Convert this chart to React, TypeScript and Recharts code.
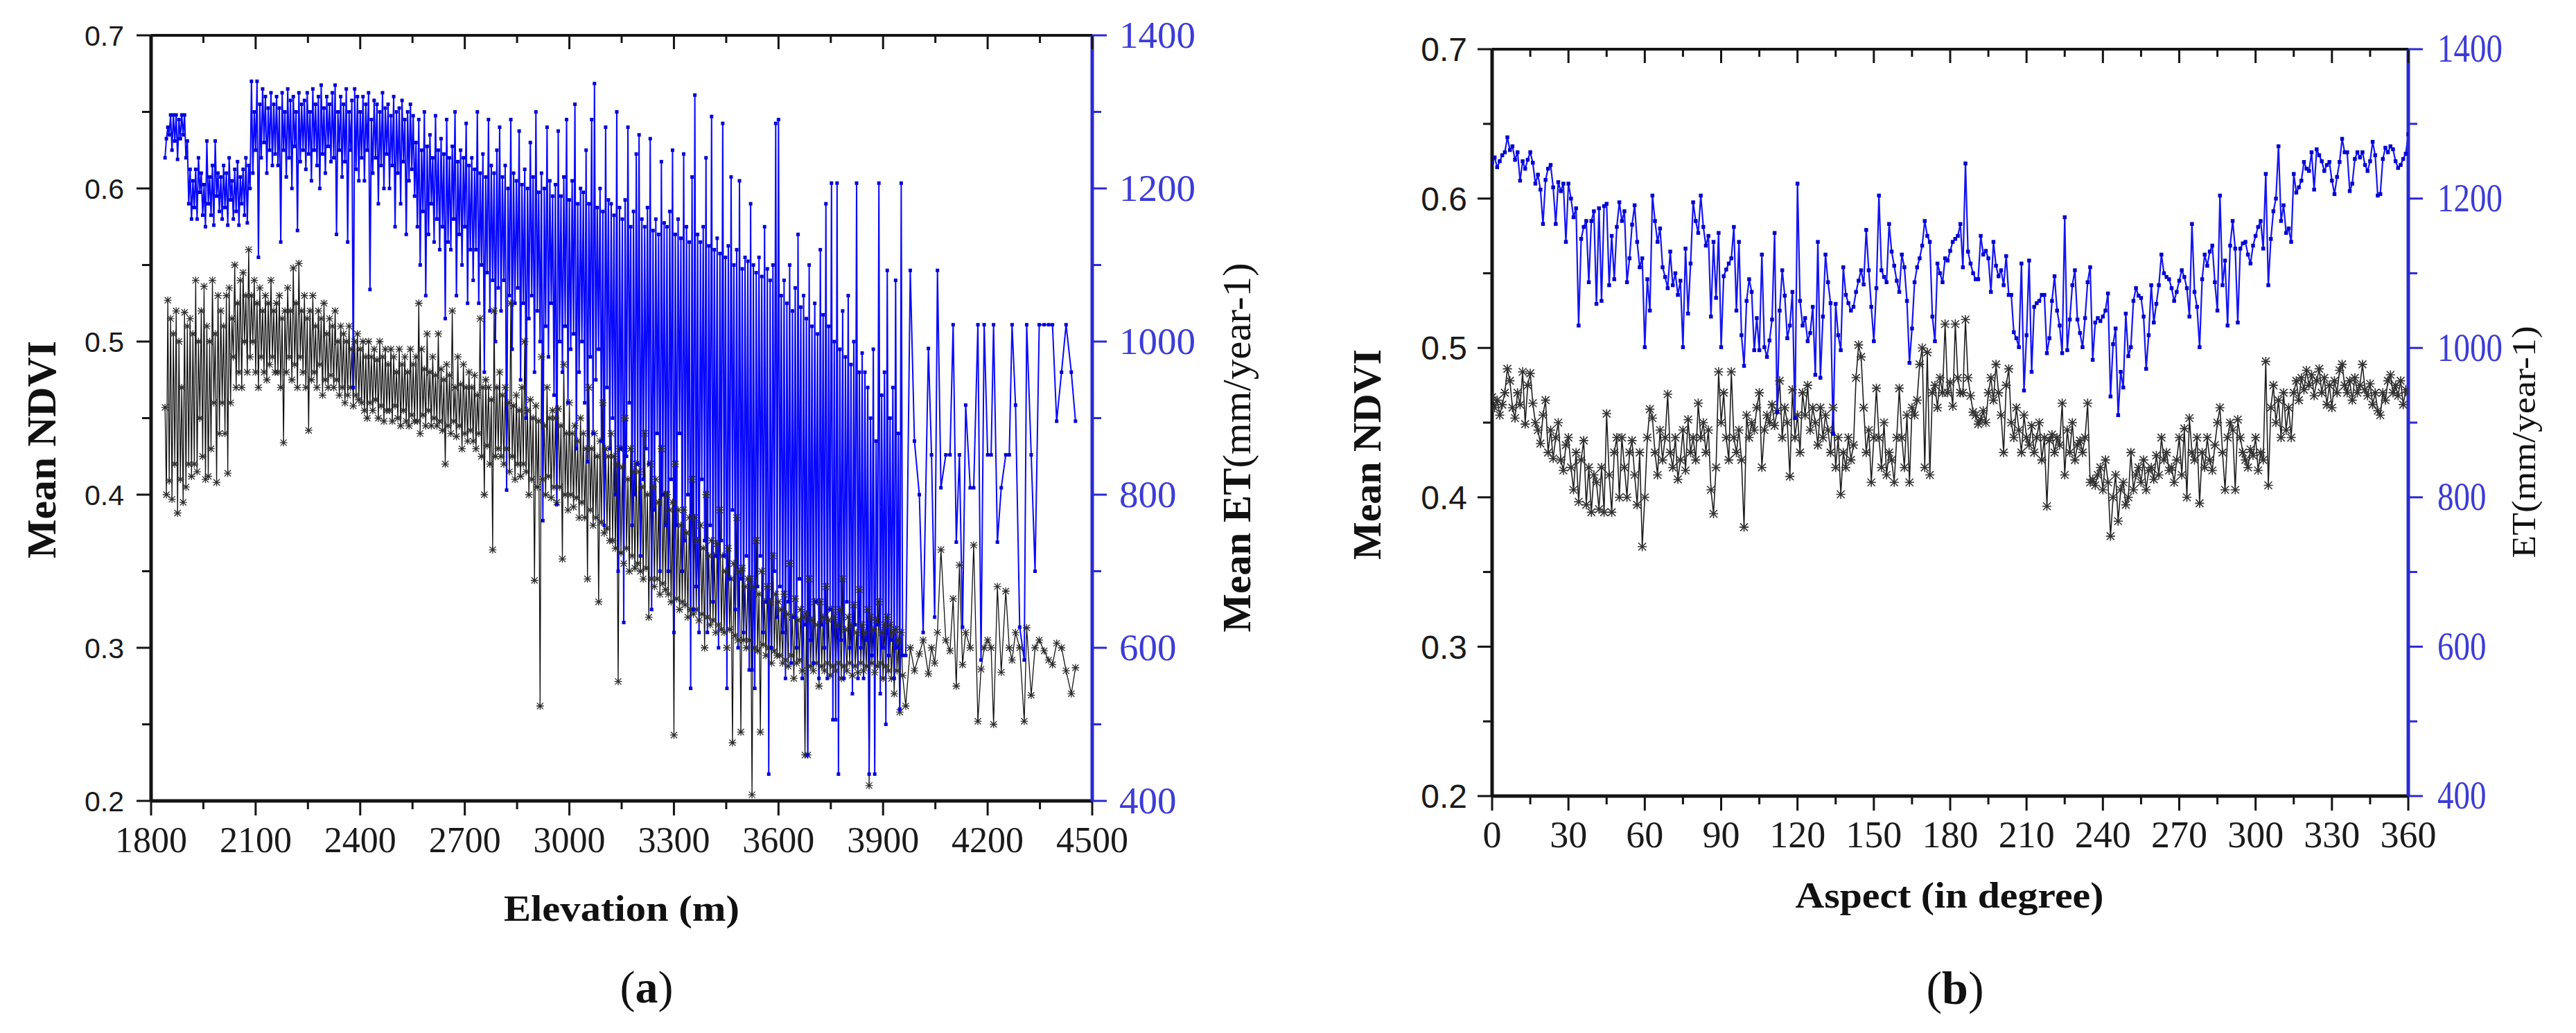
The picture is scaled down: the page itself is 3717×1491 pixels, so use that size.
import React from 'react';
import { LineChart, Line, XAxis, YAxis } from 'recharts';

// ---------- Panel (a): elevation, samples on the upper side of each swing ----------
const elevation = [
  1840,1848,1856,1864,1872,1880,1888,1896,1904,1912,
  1920,1928,1936,1944,1952,1960,1968,1976,1984,1992,
  2000,2008,2016,2024,2032,2040,2048,2056,2064,2072,
  2080,2088,2096,2104,2112,2120,2128,2136,2144,2152,
  2160,2168,2176,2184,2192,2200,2208,2216,2224,2232,
  2240,2248,2256,2264,2272,2280,2288,2296,2304,2312,
  2320,2328,2336,2344,2352,2360,2368,2376,2384,2392,
  2400,2408,2416,2424,2432,2440,2448,2456,2464,2472,
  2480,2488,2496,2504,2512,2520,2528,2536,2544,2552,
  2560,2568,2576,2584,2592,2600,2608,2616,2624,2632,
  2640,2648,2656,2664,2672,2680,2688,2696,2704,2712,
  2720,2728,2736,2744,2752,2760,2768,2776,2784,2792,
  2800,2808,2816,2824,2832,2840,2848,2856,2864,2872,
  2880,2888,2896,2904,2912,2920,2928,2936,2944,2952,
  2960,2968,2976,2984,2992,3000,3008,3016,3024,3032,
  3040,3048,3056,3064,3072,3080,3088,3096,3104,3112,
  3120,3128,3136,3144,3152,3160,3168,3176,3184,3192,
  3200,3208,3216,3224,3232,3240,3248,3256,3264,3272,
  3280,3288,3296,3304,3312,3320,3328,3336,3344,3352,
  3360,3368,3376,3384,3392,3400,3408,3416,3424,3432,
  3440,3448,3456,3464,3472,3480,3488,3496,3504,3512,
  3520,3528,3536,3544,3552,3560,3568,3576,3584,3592,
  3600,3608,3616,3624,3632,3640,3648,3656,3664,3672,
  3680,3688,3696,3704,3712,3720,3728,3736,3744,3752,
  3760,3768,3776,3784,3792,3800,3808,3816,3824,3832,
  3840,3848,3856,3864,3872,3880,3888,3896,3904,3912,
  3920,3928,3936,3944,3952,
  3965,3978,3990,4004,4015,4030,4039,4048,4056,4066,
  4080,4092,4101,4110,4119,4128,4137,4150,4160,4172,
  4181,4190,4200,4210,4217,4228,4239,4252,4262,4270,
  4280,4292,4305,4312,4325,4336,4348,4362,4375,4386,
  4398,4412,4425,4440,4452,
];

const ndviByElevation = [
  0.457,0.527,0.515,0.505,0.520,0.500,0.470,0.519,0.510,0.515,
  0.505,0.540,0.500,0.520,0.536,0.510,0.500,0.540,0.505,0.530,
  0.520,0.510,0.530,0.535,0.515,0.550,0.525,0.540,0.545,0.530,
  0.560,0.530,0.540,0.525,0.535,0.520,0.530,0.525,0.540,0.520,
  0.525,0.530,0.515,0.520,0.535,0.520,0.548,0.525,0.551,0.520,
  0.530,0.515,0.520,0.530,0.510,0.520,0.515,0.525,0.505,0.515,
  0.510,0.520,0.500,0.510,0.505,0.500,0.510,0.495,0.500,0.505,
  0.495,0.500,0.490,0.500,0.490,0.495,0.488,0.500,0.490,0.495,
  0.485,0.495,0.490,0.480,0.495,0.485,0.490,0.480,0.495,0.485,
  0.490,0.525,0.495,0.482,0.505,0.480,0.490,0.478,0.505,0.482,
  0.475,0.485,0.478,0.520,0.470,0.490,0.472,0.485,0.470,0.480,
  0.470,0.478,0.465,0.515,0.470,0.475,0.470,0.462,0.520,0.470,
  0.480,0.465,0.470,0.460,0.525,0.458,0.465,0.455,0.470,0.500,
  0.455,0.462,0.450,0.458,0.448,0.490,0.445,0.470,0.450,0.455,
  0.450,0.456,0.445,0.485,0.440,0.460,0.440,0.445,0.435,0.450,
  0.440,0.430,0.470,0.430,0.440,0.425,0.435,0.460,0.430,0.425,
  0.440,0.425,0.420,0.430,0.418,0.450,0.410,0.430,0.415,0.420,
  0.415,0.405,0.440,0.400,0.420,0.405,0.410,0.395,0.430,0.400,
  0.400,0.390,0.395,0.420,0.390,0.380,0.390,0.375,0.385,0.410,
  0.385,0.370,0.380,0.365,0.400,0.360,0.370,0.360,0.368,0.390,
  0.360,0.350,0.365,0.345,0.355,0.385,0.350,0.352,0.340,0.345,
  0.345,0.340,0.370,0.335,0.350,0.330,0.340,0.330,0.360,0.335,
  0.330,0.325,0.335,0.322,0.355,0.320,0.332,0.318,0.325,0.320,
  0.322,0.345,0.318,0.330,0.315,0.330,0.320,0.340,0.318,0.325,
  0.320,0.315,0.325,0.345,0.312,0.320,0.315,0.328,0.310,0.338,
  0.315,0.310,0.325,0.320,0.312,0.318,0.330,0.310,0.315,0.320,
  0.315,0.310,0.312,0.305,0.310,
  0.262,0.300,0.285,0.296,0.305,0.283,0.300,0.290,0.310,0.364,
  0.305,0.298,0.332,0.275,0.354,0.289,0.310,0.300,0.367,0.252,
  0.286,0.300,0.305,0.300,0.250,0.340,0.284,0.337,0.300,0.292,
  0.310,0.300,0.252,0.313,0.269,0.300,0.305,0.298,0.292,0.289,
  0.303,0.300,0.285,0.270,0.287,
];

const etByElevation = [
  1240,1280,1296,1296,1296,1290,1296,1296,1262,1225,
  1210,1225,1240,1220,1205,1262,1215,1230,1262,1220,
  1215,1230,1220,1240,1210,1225,1235,1215,1225,1240,
  1230,1340,1300,1340,1310,1330,1320,1305,1325,1310,
  1320,1305,1325,1300,1330,1315,1320,1300,1325,1310,
  1315,1325,1300,1330,1310,1320,1335,1305,1320,1310,
  1325,1335,1300,1320,1310,1330,1300,1315,1330,1320,
  1300,1320,1310,1325,1290,1315,1310,1300,1325,1305,
  1310,1295,1320,1300,1305,1315,1290,1300,1310,1295,
  1260,1290,1250,1300,1255,1270,1240,1295,1250,1265,
  1245,1290,1240,1255,1300,1235,1250,1240,1285,1230,
  1240,1225,1300,1220,1245,1215,1290,1230,1220,1250,
  1280,1215,1230,1200,1290,1220,1210,1275,1205,1225,
  1200,1260,1215,1300,1195,1220,1200,1280,1210,1190,
  1205,1275,1190,1215,1290,1185,1210,1310,1180,1200,
  1195,1250,1180,1290,1337,1175,1200,1170,1280,1185,
  1180,1165,1300,1175,1160,1185,1280,1150,1170,1245,
  1270,1160,1150,1175,1265,1145,1160,1140,1235,1155,
  1150,1170,1250,1140,1160,1135,1245,1150,1130,1215,
  1322,1140,1130,1150,1240,1125,1294,1120,1135,1115,
  1285,1110,1125,1215,1100,1120,1210,1095,1110,1105,
  1180,1100,1090,1110,1085,1150,1095,1080,1100,1285,
  1290,1060,1080,1050,1100,1040,1070,1140,1045,1060,
  1030,1100,1020,1050,1010,1120,1035,1180,1020,1207,
  1000,1207,990,1040,980,1060,970,1000,1207,960,
  985,960,940,900,990,870,1207,930,960,1093,
  900,940,1080,880,1207,
  590,1093,870,800,620,991,852,640,1093,809,
  852,852,1022,738,852,627,917,809,809,1022,
  584,1022,852,852,1022,738,809,852,852,1022,
  917,627,584,1022,852,700,1022,1022,1022,1022,
  896,960,1022,960,896,
];

// ---------- Panel (a): elevation, samples on the lower side of each swing ----------
const elevationExtra = [
  1844,1852,1860,1868,1876,1884,1892,1900,1908,1916,
  1924,1932,1940,1948,1956,1964,1972,1980,1988,1996,
  2004,2012,2020,2028,2036,2044,2052,2060,2068,2076,
  2084,2092,2100,2108,2116,2124,2132,2140,2148,2156,
  2164,2172,2180,2188,2196,2204,2212,2220,2228,2236,
  2244,2252,2260,2268,2276,2284,2292,2300,2308,2316,
  2324,2332,2340,2348,2356,2364,2372,2380,2388,2396,
  2404,2412,2420,2428,2436,2444,2452,2460,2468,2476,
  2484,2492,2500,2508,2516,2524,2532,2540,2548,2556,
  2564,2572,2580,2588,2596,2604,2612,2620,2628,2636,
  2644,2652,2660,2668,2676,2684,2692,2700,2708,2716,
  2724,2732,2740,2748,2756,2764,2772,2780,2788,2796,
  2804,2812,2820,2828,2836,2844,2852,2860,2868,2876,
  2884,2892,2900,2908,2916,2924,2932,2940,2948,2956,
  2964,2972,2980,2988,2996,3004,3012,3020,3028,3036,
  3044,3052,3060,3068,3076,3084,3092,3100,3108,3116,
  3124,3132,3140,3148,3156,3164,3172,3180,3188,3196,
  3204,3212,3220,3228,3236,3244,3252,3260,3268,3276,
  3284,3292,3300,3308,3316,3324,3332,3340,3348,3356,
  3364,3372,3380,3388,3396,3404,3412,3420,3428,3436,
  3444,3452,3460,3468,3476,3484,3492,3500,3508,3516,
  3524,3532,3540,3548,3556,3564,3572,3580,3588,3596,
  3604,3612,3620,3628,3636,3644,3652,3660,3668,3676,
  3684,3692,3700,3708,3716,3724,3732,3740,3748,3756,
  3764,3772,3780,3788,3796,3804,3812,3820,3828,3836,
  3844,3852,3860,3868,3876,3884,3892,3900,3908,3916,
  3924,3932,3940,3948,3956,
];

const ndviExtra = [
  0.400,0.409,0.397,0.420,0.388,0.410,0.395,0.405,0.420,0.412,
  0.420,0.415,0.450,0.425,0.410,0.412,0.430,0.460,0.408,0.440,
  0.460,0.440,0.414,0.460,0.490,0.470,0.480,0.470,0.500,0.480,
  0.490,0.500,0.480,0.470,0.490,0.480,0.475,0.485,0.490,0.480,
  0.480,0.470,0.434,0.480,0.490,0.475,0.485,0.470,0.490,0.480,
  0.470,0.442,0.475,0.480,0.470,0.485,0.465,0.475,0.470,0.478,
  0.470,0.475,0.465,0.470,0.460,0.465,0.470,0.458,0.465,0.462,
  0.460,0.455,0.450,0.460,0.455,0.462,0.450,0.458,0.448,0.455,
  0.455,0.448,0.458,0.450,0.445,0.455,0.448,0.445,0.452,0.448,
  0.448,0.440,0.452,0.445,0.455,0.445,0.450,0.445,0.448,0.442,
  0.420,0.445,0.440,0.448,0.438,0.445,0.430,0.440,0.435,0.442,
  0.435,0.430,0.440,0.425,0.400,0.432,0.420,0.364,0.425,0.430,
  0.425,0.420,0.430,0.415,0.425,0.410,0.420,0.412,0.420,0.415,
  0.400,0.410,0.344,0.405,0.262,0.410,0.400,0.412,0.398,0.405,
  0.395,0.405,0.358,0.400,0.390,0.400,0.392,0.398,0.385,0.395,
  0.385,0.345,0.390,0.380,0.385,0.330,0.382,0.375,0.378,0.370,
  0.370,0.365,0.278,0.362,0.355,0.365,0.350,0.360,0.352,0.355,
  0.350,0.345,0.352,0.320,0.345,0.340,0.345,0.335,0.342,0.338,
  0.335,0.330,0.243,0.332,0.325,0.330,0.328,0.320,0.325,0.322,
  0.325,0.318,0.322,0.300,0.320,0.315,0.318,0.310,0.315,0.312,
  0.310,0.300,0.312,0.238,0.308,0.305,0.245,0.305,0.300,0.305,
  0.204,0.300,0.298,0.245,0.302,0.295,0.300,0.290,0.298,0.295,
  0.295,0.290,0.292,0.288,0.295,0.280,0.290,0.292,0.285,0.230,
  0.230,0.288,0.285,0.290,0.275,0.288,0.285,0.290,0.282,0.288,
  0.285,0.290,0.280,0.288,0.285,0.290,0.282,0.288,0.284,0.290,
  0.285,0.288,0.210,0.290,0.284,0.288,0.290,0.280,0.288,0.285,
  0.280,0.270,0.285,0.258,0.282,
];

const etExtra = [
  1265,1270,1250,1262,1238,1265,1270,1240,1180,1160,
  1175,1160,1195,1165,1150,1180,1165,1152,1190,1170,
  1160,1175,1152,1185,1160,1170,1152,1180,1165,1155,
  1200,1220,1250,1110,1240,1260,1220,1250,1230,1245,
  1230,1130,1250,1215,1240,1200,1255,1145,1235,1250,
  1225,1245,1210,1250,1230,1200,1245,1220,1255,1235,
  1240,1140,1250,1215,1235,1130,1250,940,1225,1210,
  1240,1210,1250,1068,1220,1240,1180,1230,1200,1245,
  1200,1230,1150,1220,1180,1235,1140,1210,1225,1190,
  1150,1100,1170,1060,1140,1180,1130,1160,1120,1150,
  1030,1130,1120,1160,1060,1140,1100,1150,1050,1120,
  1080,1120,1050,1100,960,1090,1040,1080,1000,1070,
  1040,1080,806,1060,990,1050,1070,950,1050,900,
  1030,1060,960,1040,1000,766,1020,980,1050,930,
  787,1000,960,1020,920,990,1010,860,960,1000,
  920,843,980,880,950,990,870,760,940,860,
  900,800,700,860,633,850,920,760,800,840,
  720,820,860,840,650,780,880,700,800,760,
  700,820,620,760,880,700,740,800,547,650,
  680,620,820,740,620,760,660,720,600,740,
  720,547,690,780,650,600,690,620,720,571,
  571,547,680,720,620,660,435,600,700,640,
  680,620,560,660,580,640,600,690,560,630,
  460,610,580,660,560,630,600,560,650,506,
  506,435,610,560,660,600,540,630,560,600,
  560,610,435,590,435,630,540,600,500,590,
  610,560,600,520,590,
];

// ---------- Panel (b): aspect ----------
const aspect = [
  0,1,2,3,4,5,6,7,8,9,10,11,12,13,14,15,16,17,18,19,20,21,22,23,24,25,26,27,28,29,
  30,31,32,33,34,35,36,37,38,39,40,41,42,43,44,45,46,47,48,49,50,51,52,53,54,55,56,57,58,59,
  60,61,62,63,64,65,66,67,68,69,70,71,72,73,74,75,76,77,78,79,80,81,82,83,84,85,86,87,88,89,
  90,91,92,93,94,95,96,97,98,99,100,101,102,103,104,105,106,107,108,109,110,111,112,113,114,115,116,117,118,119,
  120,121,122,123,124,125,126,127,128,129,130,131,132,133,134,135,136,137,138,139,140,141,142,143,144,145,146,147,148,149,
  150,151,152,153,154,155,156,157,158,159,160,161,162,163,164,165,166,167,168,169,170,171,172,173,174,175,176,177,178,179,
  180,181,182,183,184,185,186,187,188,189,190,191,192,193,194,195,196,197,198,199,200,201,202,203,204,205,206,207,208,209,
  210,211,212,213,214,215,216,217,218,219,220,221,222,223,224,225,226,227,228,229,230,231,232,233,234,235,236,237,238,239,
  240,241,242,243,244,245,246,247,248,249,250,251,252,253,254,255,256,257,258,259,260,261,262,263,264,265,266,267,268,269,
  270,271,272,273,274,275,276,277,278,279,280,281,282,283,284,285,286,287,288,289,290,291,292,293,294,295,296,297,298,299,
  300,301,302,303,304,305,306,307,308,309,310,311,312,313,314,315,316,317,318,319,320,321,322,323,324,325,326,327,328,329,
  330,331,332,333,334,335,336,337,338,339,340,341,342,343,344,345,346,347,348,349,350,351,352,353,354,355,356,357,358,359,
  360,
];

const ndviByAspect = [
  0.467,0.460,0.465,0.455,0.462,0.470,0.486,0.478,0.460,0.453,
  0.470,0.462,0.484,0.449,0.475,0.483,0.463,0.450,0.445,0.436,
  0.455,0.465,0.430,0.445,0.426,0.440,0.450,0.425,0.418,0.435,
  0.440,0.420,0.405,0.430,0.397,0.425,0.438,0.395,0.420,0.390,
  0.415,0.410,0.392,0.420,0.390,0.456,0.415,0.390,0.430,0.440,
  0.400,0.440,0.420,0.400,0.430,0.438,0.415,0.395,0.430,0.367,
  0.400,0.440,0.459,0.453,0.430,0.415,0.445,0.425,0.440,0.469,
  0.430,0.420,0.440,0.412,0.425,0.445,0.418,0.452,0.430,0.440,
  0.425,0.463,0.440,0.450,0.430,0.445,0.405,0.389,0.420,0.484,
  0.450,0.470,0.440,0.425,0.484,0.440,0.430,0.445,0.425,0.380,
  0.455,0.440,0.450,0.445,0.460,0.470,0.420,0.445,0.455,0.450,
  0.462,0.448,0.458,0.478,0.440,0.460,0.450,0.414,0.472,0.440,
  0.455,0.430,0.470,0.455,0.475,0.445,0.460,0.450,0.435,0.460,
  0.440,0.455,0.445,0.430,0.460,0.420,0.440,0.402,0.430,0.420,
  0.440,0.425,0.435,0.480,0.502,0.494,0.460,0.430,0.445,0.410,
  0.440,0.473,0.440,0.420,0.450,0.415,0.430,0.425,0.410,0.440,
  0.473,0.440,0.420,0.455,0.410,0.460,0.455,0.465,0.489,0.500,
  0.420,0.497,0.415,0.470,0.475,0.460,0.480,0.470,0.516,0.470,
  0.477,0.461,0.516,0.480,0.470,0.470,0.519,0.480,0.468,0.457,
  0.455,0.449,0.452,0.458,0.450,0.470,0.480,0.465,0.489,0.470,
  0.455,0.430,0.475,0.486,0.450,0.440,0.460,0.445,0.430,0.455,
  0.440,0.435,0.448,0.430,0.440,0.450,0.425,0.440,0.394,0.438,
  0.442,0.430,0.440,0.435,0.463,0.415,0.445,0.430,0.450,0.425,
  0.435,0.438,0.430,0.440,0.463,0.410,0.412,0.408,0.415,0.420,
  0.405,0.425,0.410,0.374,0.400,0.415,0.384,0.405,0.410,0.395,
  0.400,0.430,0.405,0.415,0.420,0.410,0.425,0.405,0.418,0.420,
  0.412,0.428,0.415,0.440,0.425,0.430,0.418,0.420,0.410,0.425,
  0.440,0.415,0.446,0.400,0.453,0.430,0.425,0.440,0.396,0.430,
  0.420,0.440,0.425,0.418,0.435,0.450,0.460,0.430,0.405,0.440,
  0.450,0.445,0.405,0.452,0.440,0.430,0.425,0.420,0.432,0.428,
  0.440,0.418,0.430,0.425,0.491,0.408,0.460,0.475,0.450,0.465,
  0.440,0.470,0.445,0.460,0.440,0.470,0.478,0.465,0.480,0.472,
  0.485,0.475,0.482,0.468,0.478,0.486,0.470,0.480,0.462,0.475,
  0.460,0.478,0.470,0.485,0.489,0.475,0.470,0.478,0.465,0.480,
  0.470,0.475,0.489,0.472,0.468,0.476,0.462,0.470,0.458,0.455,
  0.470,0.465,0.478,0.482,0.470,0.475,0.468,0.478,0.462,0.472,0.470,
];

const etByAspect = [
  1248,1255,1242,1250,1258,1262,1282,1265,1270,1252,
  1262,1224,1250,1240,1252,1262,1248,1220,1232,1212,
  1166,1225,1240,1245,1215,1166,1222,1210,1220,1142,
  1220,1200,1175,1187,1030,1146,1162,1170,1088,1170,
  1183,1059,1187,1063,1190,1193,1084,1150,1092,1162,
  1195,1170,1183,1088,1120,1165,1191,1142,1108,1120,
  1001,1092,1050,1204,1170,1142,1160,1108,1095,1080,
  1129,1084,1100,1071,1090,1001,1133,1046,1113,1195,
  1170,1154,1204,1162,1137,1150,1042,1142,1067,1154,
  1001,1096,1105,1113,1120,1162,1050,1142,1017,976,
  1063,1092,1075,997,1040,997,1125,1001,988,1010,
  1038,1154,914,1050,1104,1070,1013,1030,1075,906,
  1220,1063,1030,1040,1009,1020,1055,964,1142,960,
  1042,1125,1088,1060,885,1059,1017,997,1108,1071,
  1060,1050,1055,1075,1090,1104,1085,1158,1104,1055,
  1009,1080,1204,1104,1095,1088,1166,1129,1110,1090,
  1075,1125,1108,1063,980,1026,1088,1108,1120,1137,
  1170,1150,1142,1042,1009,1113,1100,1088,1120,1117,
  1130,1142,1146,1150,1166,1108,1247,1129,1113,1100,
  1092,1092,1150,1125,1130,1120,1075,1142,1110,1096,
  1104,1084,1123,1071,1071,1021,1013,1001,1113,943,
  1017,1117,968,1055,1060,1063,1071,1071,993,1013,
  1063,1096,1050,1030,993,1175,997,1038,1084,1104,
  1038,1020,1001,1040,1088,1108,984,1034,1040,1036,
  1042,1050,1073,935,1005,1026,910,968,947,1046,
  989,1001,1063,1080,1070,1067,1042,972,1017,1084,
  1034,1059,1084,1125,1100,1095,1092,1080,1063,1075,
  1090,1104,1095,1080,1042,1166,1075,1055,1001,1092,
  1125,1110,1129,1137,1088,1050,1204,1084,1117,1030,
  1137,1170,1133,1034,1133,1140,1142,1125,1113,1137,
  1150,1162,1170,1133,1233,1084,1146,1183,1200,1270,
  1170,1191,1154,1160,1142,1233,1208,1215,1224,1249,
  1240,1237,1262,1212,1266,1258,1250,1237,1245,1249,
  1224,1206,1229,1249,1280,1262,1262,1210,1220,1253,
  1262,1255,1262,1245,1237,1250,1276,1258,1204,1206,
  1253,1268,1262,1270,1266,1250,1241,1245,1253,1260,1286,
];

// ---------- Ticks ----------
const elevationTicks = [1800,1950,2100,2250,2400,2550,2700,2850,3000,3150,3300,3450,3600,3750,3900,4050,4200,4350,4500];
const elevationLabelTicks = [1800,2100,2400,2700,3000,3300,3600,3900,4200,4500];
const aspectTicks = [0,15,30,45,60,75,90,105,120,135,150,165,180,195,210,225,240,255,270,285,300,315,330,345,360];
const aspectLabelTicks = [0,30,60,90,120,150,180,210,240,270,300,330,360];
const ndviTicks = [0.2,0.25,0.3,0.35,0.4,0.45,0.5,0.55,0.6,0.65,0.7];
const ndviLabelTicks = ['0.2','0.3','0.4','0.5','0.6','0.7'];
const etTicks = [400,500,600,700,800,900,1000,1100,1200,1300,1400];
const etLabelTicks = [400,600,800,1000,1200,1400];

const tableA = [
  ...elevation.map((x, i) => ({ x, ndvi: ndviByElevation[i], et: etByElevation[i] })),
  ...elevationExtra.map((x, i) => ({ x, ndvi: ndviExtra[i], et: etExtra[i] })),
].sort((p, q) => p.x - q.x);
const tableB = aspect.map((x, i) => ({ x, ndvi: ndviByAspect[i], et: etByAspect[i] }));

const SERIF = '"Liberation Serif", "Times New Roman", serif';
const SANS = '"Liberation Sans", Arial, sans-serif';
const AXIS_BLACK = '#141414';
const AXIS_BLUE = '#2a2ad6';
const LABEL_BLUE = '#3c3cd8';

const ndviLabel = (v: number) => {
  const s = v.toFixed(1);
  return Math.abs(v - Number(s)) < 1e-6 && ndviLabelTicks.includes(s) ? s : null;
};

const bottomTick = (labels: number[], fontSize: number, offset: number) => (props: any) => {
  const { x, y, payload } = props;
  const major = labels.includes(payload.value);
  return (
    <g>
      <line x1={x} x2={x} y1={y} y2={y + (major ? 21 : 12)} stroke={AXIS_BLACK} strokeWidth={3} />
      {major && (
        <text x={x} y={y + offset} textAnchor="middle" fontFamily={SERIF} fontSize={fontSize} fill="#1a1a1a">
          {payload.value}
        </text>
      )}
    </g>
  );
};

const topTick = (labels: number[]) => (props: any) => {
  const { x, y, payload } = props;
  const major = labels.includes(payload.value);
  return <line x1={x} x2={x} y1={y} y2={y + (major ? 20 : 11)} stroke={AXIS_BLACK} strokeWidth={3} />;
};

const leftTick = (fontSize: number, gap: number) => (props: any) => {
  const { x, y, payload } = props;
  const lab = ndviLabel(payload.value);
  return (
    <g>
      <line x1={x - (lab ? 21 : 13)} x2={x} y1={y} y2={y} stroke={AXIS_BLACK} strokeWidth={3} />
      {lab && (
        <text x={x - gap} y={y} dy="0.36em" textAnchor="end" fontFamily={SANS} fontSize={fontSize} fill="#1a1a1a">
          {lab}
        </text>
      )}
    </g>
  );
};

const rightTick = (fontSize: number, gap: number, charW: number | null) => (props: any) => {
  const { x, y, payload } = props;
  const major = etLabelTicks.includes(payload.value);
  const s = String(payload.value);
  return (
    <g>
      <line x1={x} x2={x + (major ? 21 : 13)} y1={y} y2={y} stroke={AXIS_BLUE} strokeWidth={3} />
      {major && (
        <text
          x={x + gap}
          y={y}
          dy="0.33em"
          textAnchor="start"
          fontFamily={SERIF}
          fontSize={fontSize}
          fill={LABEL_BLUE}
          {...(charW ? { textLength: s.length * charW, lengthAdjust: 'spacingAndGlyphs' } : {})}
        >
          {s}
        </text>
      )}
    </g>
  );
};

const starDot = (r: number, color: string, w: number) => (props: any) => {
  const { cx, cy, index } = props;
  if (cx == null || cy == null) return <g key={`n${index}`} />;
  const d = `M${cx - r},${cy - r}L${cx + r},${cy + r}M${cx - r},${cy + r}L${cx + r},${cy - r}M${cx},${cy - r * 1.2}L${cx},${cy + r * 1.2}M${cx - r * 1.2},${cy}L${cx + r * 1.2},${cy}`;
  return <path key={`s${index}`} d={d} stroke={color} strokeWidth={w} fill="none" />;
};

const squareDot = (s: number, color: string) => (props: any) => {
  const { cx, cy, index } = props;
  if (cx == null || cy == null) return <g key={`n${index}`} />;
  return <rect key={`q${index}`} x={cx - s / 2} y={cy - s / 2} width={s} height={s} fill={color} />;
};

export default function App() {
  return (
    <div style={{ position: 'absolute', left: 0, top: 0, width: 3717, height: 1491, background: '#ffffff', overflow: 'hidden' }}>
      {/* Panel (a) */}
      <div style={{ position: 'absolute', left: 0, top: 0 }}>
        <LineChart width={1900} height={1491} data={tableA} margin={{ top: 50, right: 0, bottom: 0, left: 0 }}>
          <XAxis xAxisId="bottom" dataKey="x" type="number" domain={[1800, 4500]} ticks={elevationTicks} interval={0} allowDataOverflow
            height={335} tickSize={0} tickMargin={0} tickLine={false} axisLine={{ stroke: AXIS_BLACK, strokeWidth: 5 }}
            tick={bottomTick(elevationLabelTicks, 52, 74)} />
          <XAxis xAxisId="top" orientation="top" dataKey="x" type="number" domain={[1800, 4500]} ticks={elevationTicks} interval={0} allowDataOverflow
            height={1} tickSize={0} tickMargin={0} tickLine={false} axisLine={{ stroke: AXIS_BLACK, strokeWidth: 4 }}
            tick={topTick(elevationLabelTicks)} />
          <YAxis yAxisId="ndvi" type="number" domain={[0.2, 0.7]} ticks={ndviTicks} interval={0} allowDataOverflow
            width={218} tickSize={0} tickMargin={0} tickLine={false} axisLine={{ stroke: AXIS_BLACK, strokeWidth: 5 }}
            tick={leftTick(41, 39)} />
          <YAxis yAxisId="et" orientation="right" type="number" domain={[400, 1400]} ticks={etTicks} interval={0} allowDataOverflow
            width={324} tickSize={0} tickMargin={0} tickLine={false} axisLine={{ stroke: AXIS_BLUE, strokeWidth: 5 }}
            tick={rightTick(55, 39, null)} />
          <Line xAxisId="bottom" yAxisId="ndvi" dataKey="ndvi" type="linear" stroke="#111111" strokeWidth={1.3}
            dot={starDot(4.5, '#2e2e2e', 1.3)} activeDot={false} isAnimationActive={false} />
          <Line xAxisId="bottom" yAxisId="et" dataKey="et" type="linear" stroke="#0808ff" strokeWidth={2}
            dot={squareDot(5, '#0000d8')} activeDot={false} isAnimationActive={false} />
        </LineChart>
      </div>

      {/* Panel (b) */}
      <div style={{ position: 'absolute', left: 1900, top: 0 }}>
        <LineChart width={1817} height={1491} data={tableB} margin={{ top: 70, right: 0, bottom: 0, left: 0 }}>
          <XAxis xAxisId="bottom" dataKey="x" type="number" domain={[0, 360]} ticks={aspectTicks} interval={0} allowDataOverflow
            height={342} tickSize={0} tickMargin={0} tickLine={false} axisLine={{ stroke: AXIS_BLACK, strokeWidth: 5 }}
            tick={bottomTick(aspectLabelTicks, 54, 74)} />
          <XAxis xAxisId="top" orientation="top" dataKey="x" type="number" domain={[0, 360]} ticks={aspectTicks} interval={0} allowDataOverflow
            height={1} tickSize={0} tickMargin={0} tickLine={false} axisLine={{ stroke: AXIS_BLACK, strokeWidth: 4 }}
            tick={topTick(aspectLabelTicks)} />
          <YAxis yAxisId="ndvi" type="number" domain={[0.2, 0.7]} ticks={ndviTicks} interval={0} allowDataOverflow
            width={253} tickSize={0} tickMargin={0} tickLine={false} axisLine={{ stroke: AXIS_BLACK, strokeWidth: 5 }}
            tick={leftTick(48, 36)} />
          <YAxis yAxisId="et" orientation="right" type="number" domain={[400, 1400]} ticks={etTicks} interval={0} allowDataOverflow
            width={242} tickSize={0} tickMargin={0} tickLine={false} axisLine={{ stroke: AXIS_BLUE, strokeWidth: 5 }}
            tick={rightTick(56, 42, 23.5)} />
          <Line xAxisId="bottom" yAxisId="ndvi" dataKey="ndvi" type="linear" stroke="#1e1e1e" strokeWidth={1.6}
            dot={starDot(5.5, '#333333', 1.6)} activeDot={false} isAnimationActive={false} />
          <Line xAxisId="bottom" yAxisId="et" dataKey="et" type="linear" stroke="#1414f5" strokeWidth={2.2}
            dot={squareDot(5.5, '#0000d0')} activeDot={false} isAnimationActive={false} />
        </LineChart>
      </div>

      {/* Axis titles and panel captions */}
      <svg width={3717} height={1491} style={{ position: 'absolute', left: 0, top: 0, pointerEvents: 'none' }}>
        <text transform="translate(80,649) rotate(-90)" textAnchor="middle" fontFamily={SERIF} fontWeight="bold" fontSize={60} fill="#111" textLength={314} lengthAdjust="spacingAndGlyphs">
          Mean NDVI
        </text>
        <text transform="translate(1804,646) rotate(-90)" textAnchor="middle" fontFamily={SERIF} fontSize={56} fill="#111" textLength={533} lengthAdjust="spacingAndGlyphs">
          <tspan fontWeight="bold">Mean ET</tspan>
          <tspan>(mm/year-1)</tspan>
        </text>
        <text x={897} y={1329} textAnchor="middle" fontFamily={SERIF} fontWeight="bold" fontSize={52} fill="#111" textLength={340} lengthAdjust="spacingAndGlyphs">
          Elevation (m)
        </text>
        <text x={933} y={1447} textAnchor="middle" fontFamily={SERIF} fontSize={66} fill="#111">
          (<tspan fontWeight="bold">a</tspan>)
        </text>

        <text transform="translate(1992,656) rotate(-90)" textAnchor="middle" fontFamily={SERIF} fontWeight="bold" fontSize={56} fill="#111" textLength={304} lengthAdjust="spacingAndGlyphs">
          Mean NDVI
        </text>
        <text transform="translate(3658,638) rotate(-90)" textAnchor="middle" fontFamily={SERIF} fontSize={48} fill="#111" textLength={335} lengthAdjust="spacingAndGlyphs">
          ET(mm/year-1)
        </text>
        <text x={2813} y={1310} textAnchor="middle" fontFamily={SERIF} fontWeight="bold" fontSize={52} fill="#111" textLength={445} lengthAdjust="spacingAndGlyphs">
          Aspect (in degree)
        </text>
        <text x={2821} y={1449} textAnchor="middle" fontFamily={SERIF} fontSize={68} fill="#111">
          (<tspan fontWeight="bold">b</tspan>)
        </text>
      </svg>
    </div>
  );
}
